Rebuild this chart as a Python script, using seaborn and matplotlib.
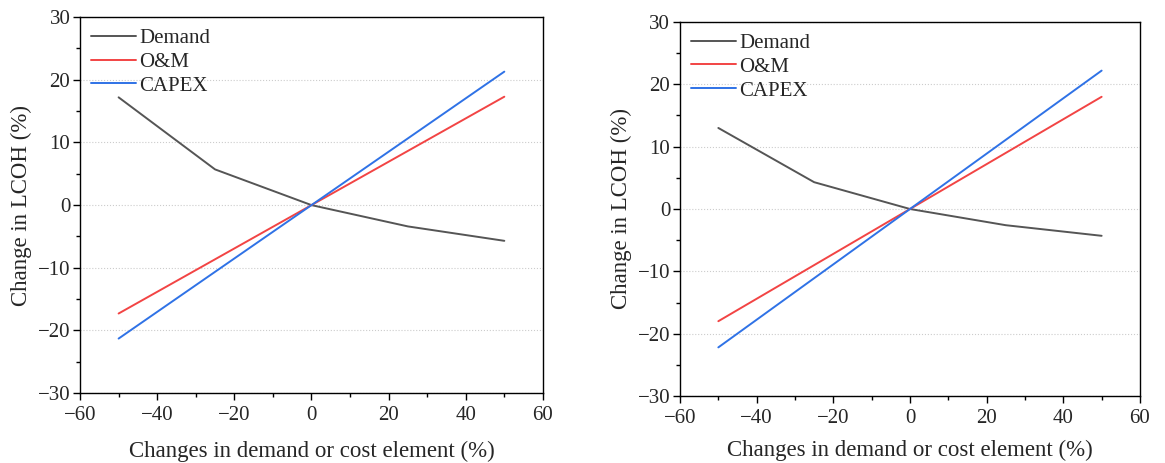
import numpy as np
import pandas as pd
import matplotlib
matplotlib.use("Agg")
import matplotlib.pyplot as plt
from matplotlib.ticker import MultipleLocator
import seaborn as sns

changes = [-50, -25, 0, 25, 50]
series_names = ["Demand", "O&M", "CAPEX"]

left_demand = [17.2, 5.7, 0.0, -3.4, -5.7]
left_om = [-17.3, -8.65, 0.0, 8.65, 17.3]
left_capex = [-21.3, -10.65, 0.0, 10.65, 21.3]

right_demand = [13.0, 4.3, 0.0, -2.6, -4.3]
right_om = [-18.0, -9.0, 0.0, 9.0, 18.0]
right_capex = [-22.2, -11.1, 0.0, 11.1, 22.2]

colors = {"Demand": "#555555", "O&M": "#F24444", "CAPEX": "#2F72E6"}

sns.set_theme(style="white")
plt.rcParams['font.family'] = ['Liberation Serif', 'DejaVu Serif']


def make_df(d, o, c):
    rows = []
    for name, vals in zip(series_names, [d, o, c]):
        for x, y in zip(changes, vals):
            rows.append({"x": x, "y": y, "series": name})
    return pd.DataFrame(rows)


fig = plt.figure(figsize=(11.65, 4.63), dpi=100)
ax1 = fig.add_axes([0.0687, 0.151, 0.3973, 0.812])
ax2 = fig.add_axes([0.5837, 0.1447, 0.3948, 0.8078])

for ax, data, lp in [(ax1, (left_demand, left_om, left_capex), 12),
                     (ax2, (right_demand, right_om, right_capex), 9)]:
    df = make_df(*data)
    sns.lineplot(data=df, x="x", y="y", hue="series", hue_order=series_names,
                 palette=colors, linewidth=1.4, ax=ax)
    ax.set_xlim(-60, 60)
    ax.set_ylim(-30, 30)
    ax.xaxis.set_major_locator(MultipleLocator(20))
    ax.xaxis.set_minor_locator(MultipleLocator(10))
    ax.yaxis.set_major_locator(MultipleLocator(10))
    ax.yaxis.set_minor_locator(MultipleLocator(5))
    ax.tick_params(axis="both", which="major", direction="out", length=5, width=1,
                   labelsize=15, color="black", bottom=True, left=True, pad=2)
    ax.tick_params(axis="x", which="major", pad=4)
    ax.tick_params(axis="both", which="minor", direction="out", length=3, width=1,
                   color="black", bottom=True, left=True)
    ax.grid(axis="y", which="major", linestyle=":", color="#cccccc", linewidth=0.8)
    for s in ax.spines.values():
        s.set_color("black")
        s.set_linewidth(1.0)
    ax.set_xlabel("Changes in demand or cost element (%)", fontsize=16.5, labelpad=lp)
    ax.set_ylabel("Change in LCOH (%)", fontsize=16.5, labelpad=4)
    leg = ax.legend(loc="upper left", frameon=False, fontsize=15, handlelength=2.15,
                    handletextpad=0.15, labelspacing=0.2, borderaxespad=0.3,
                    borderpad=0.25)
    for line in leg.get_lines():
        line.set_linewidth(1.4)

fig.savefig("out.png", dpi=100)
